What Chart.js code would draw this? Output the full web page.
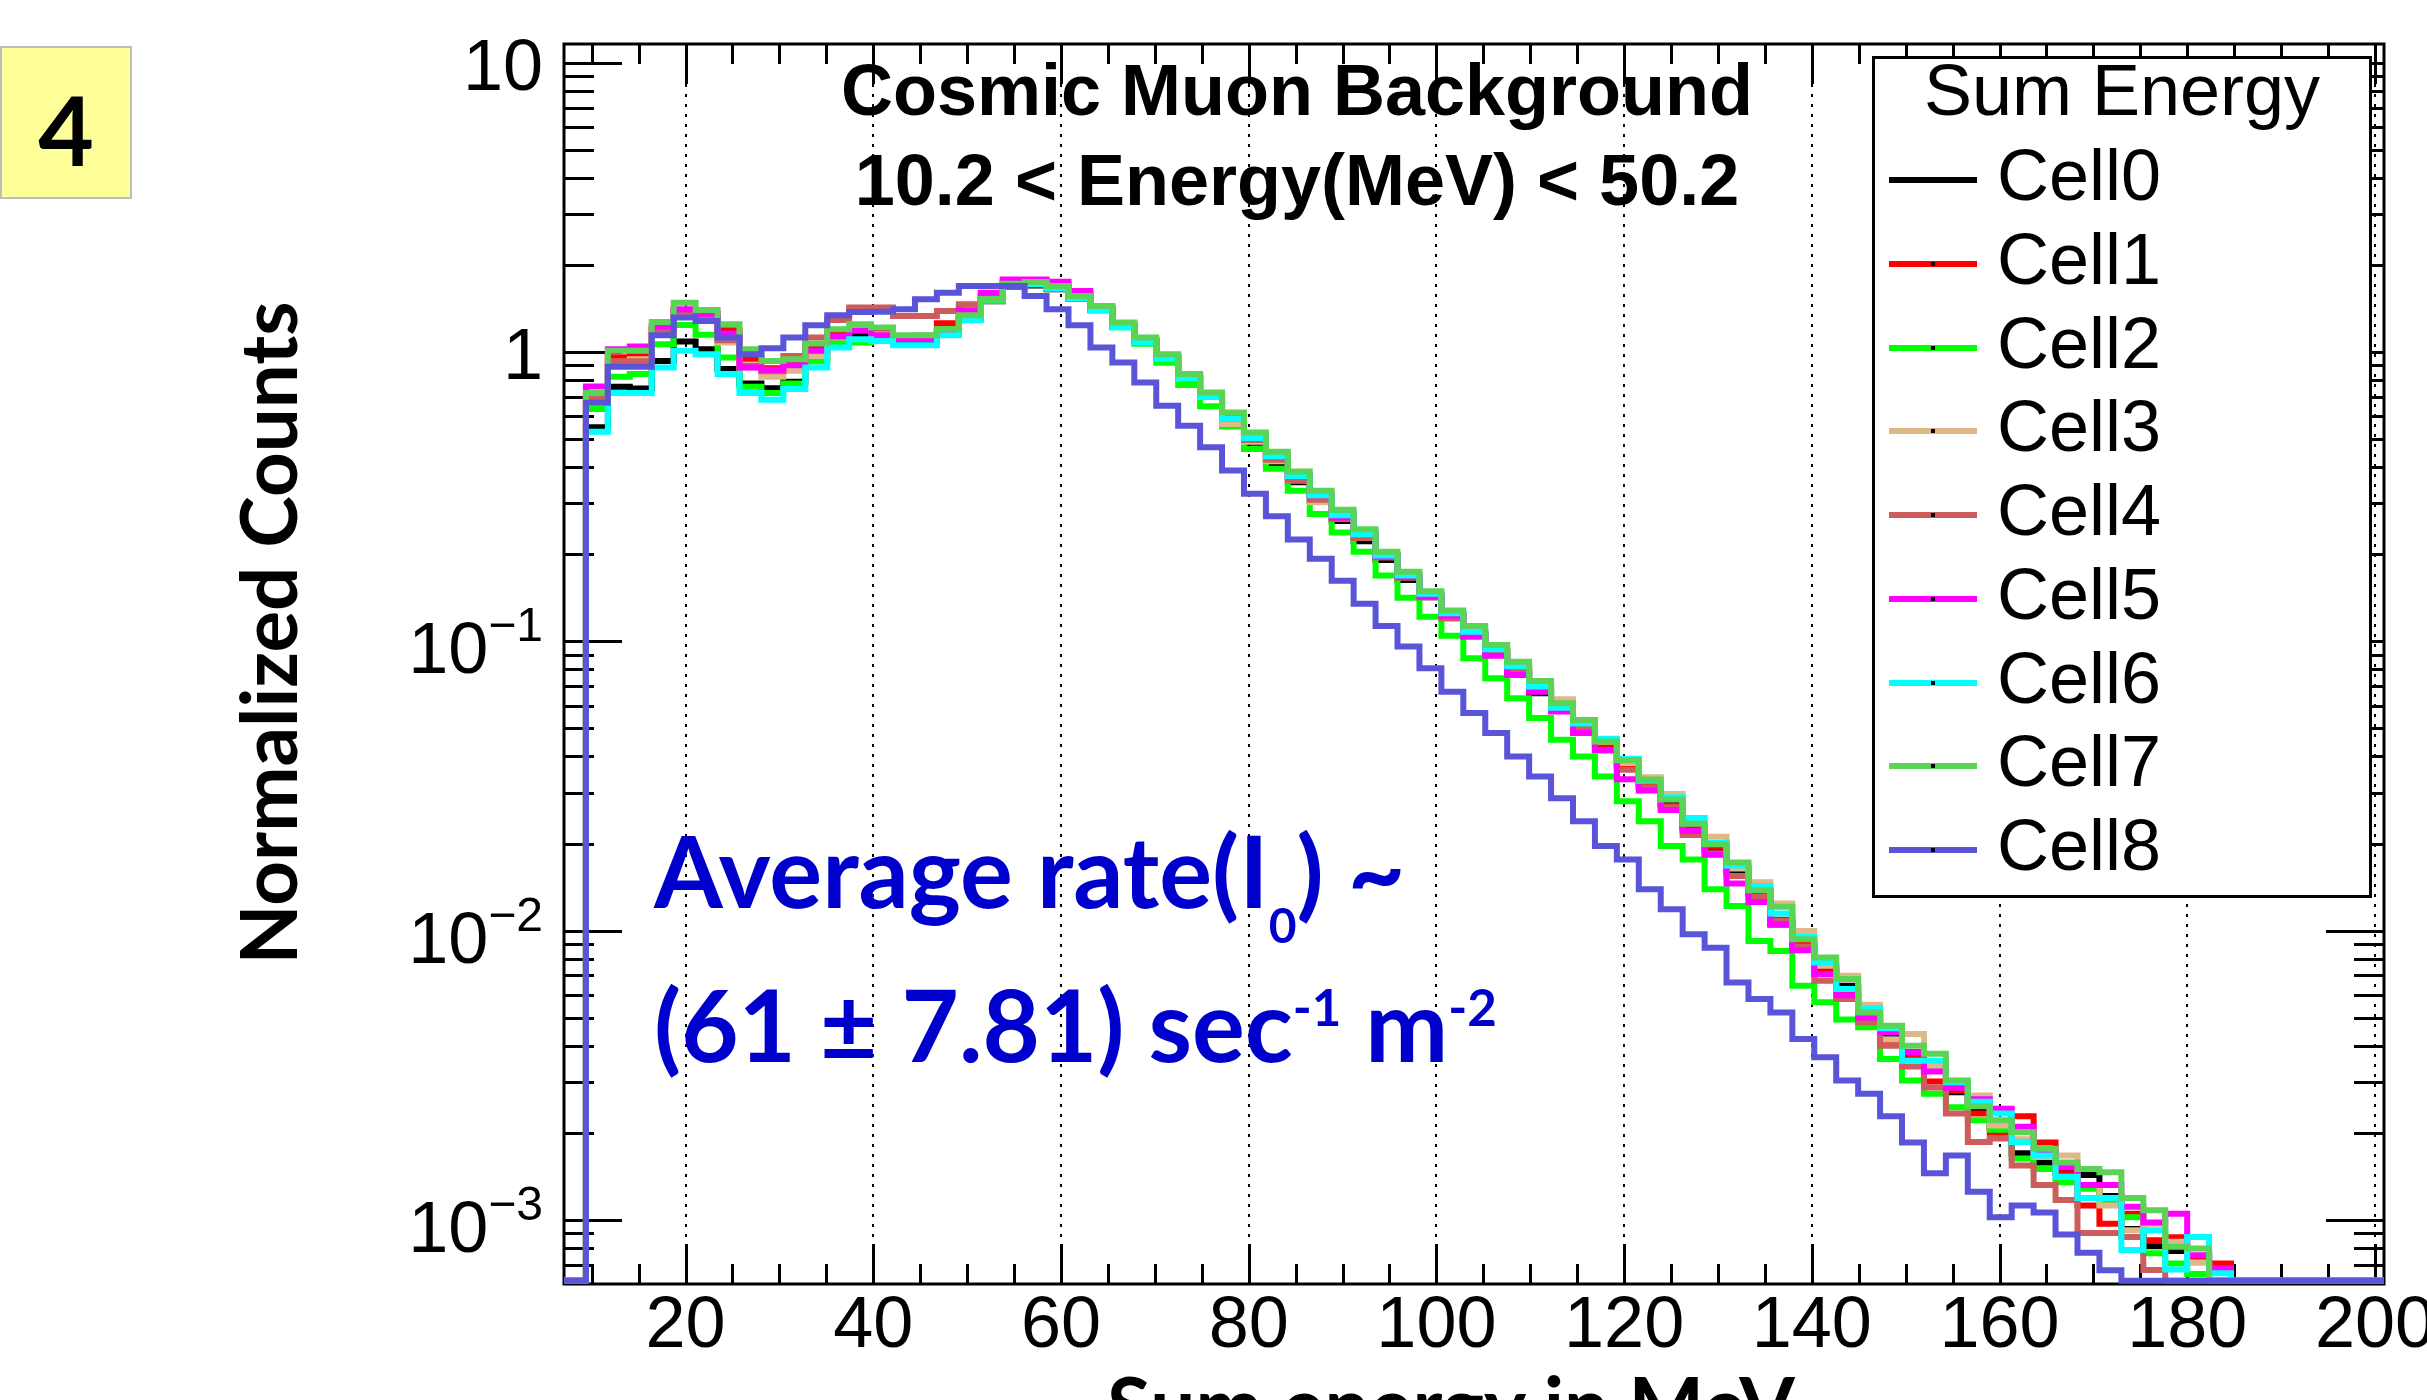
<!DOCTYPE html>
<html lang="en">
<head>
<meta charset="utf-8">
<title>Cosmic Muon Background</title>
<script src="https://cdn.jsdelivr.net/npm/chart.js"></script>
<style>
    html, body { margin: 0; padding: 0; background: #ffffff; overflow: hidden; }
    #pagina { position: relative; width: 2427px; height: 1400px; overflow: hidden; background: #ffffff; }
    #grafico { position: absolute; left: 0; top: 0; }
    .texto { position: absolute; white-space: nowrap; line-height: 1; }
    .helv { font-family: "Liberation Sans", Arial, sans-serif; color: #000; }
    .cal { font-family: Lato, "Noto Sans", sans-serif; font-weight: 700; }
    #caja4 { position: absolute; left: 0; top: 46px; width: 128px; height: 149px; background: #ffff99; border: 2px solid #bdbdbd; }
    #num4 { left: 0; top: 81px; width: 132px; text-align: center; font-size: 96px; color: #000; }
    #ytitulo { left: -133px; top: 594px; width: 800px; text-align: center; font-size: 78px; color: #000; transform: rotate(-90deg); }
    #xtitulo { left: 1051px; top: 1364px; width: 800px; text-align: center; font-size: 80px; color: #000; }
    .titulo { left: 697px; width: 1200px; text-align: center; font-size: 72px; font-weight: bold; }
    .tasa { left: 654px; font-size: 99px; color: #0000cc; }
    .sup { position: relative; top: -36px; font-size: 51px; }
    .sub { position: relative; top: 35px; font-size: 48px; }
    #leyenda { position: absolute; left: 1872px; top: 56px; width: 494px; height: 836px; background: #fff; border: 3px solid #000; }
    .linea { position: absolute; height: 6px; width: 88px; }
    .punto { position: absolute; left: 42px; top: 1px; width: 4px; height: 4px; background: #000; }
</style>
</head>
<body>
<div id="pagina">
    <canvas id="grafico" width="2427" height="1400"></canvas>

    <div id="caja4"></div>
    <div id="num4" class="texto cal">4</div>

    <div id="ytitulo" class="texto cal">Normalized Counts</div>
    <div id="xtitulo" class="texto cal">Sum energy in MeV</div>

    <div class="texto helv titulo" style="top: 54px;">Cosmic Muon Background</div>
    <div class="texto helv titulo" style="top: 144px;">10.2 &lt; Energy(MeV) &lt; 50.2</div>

    <div class="texto cal tasa" style="top: 820px;">Average rate(I<span class="sub">0</span>) ~</div>
    <div class="texto cal tasa" style="top: 974px;">(61 ± 7.81) sec<span class="sup">-1</span> m<span class="sup">-2</span></div>

    <div id="leyenda"></div>
</div>

<script>
        // bins of the histograms: lower edge of the first bin and bin width (MeV)
        const binLow = 7.05;
        const binWidth = 2.337;
        const xMin = 7.05;
        const xMax = 200.96;
        const yMin = 6.16e-4;
        const yMax = 11.63;

        const xTickValues = [20, 40, 60, 80, 100, 120, 140, 160, 180, 200];
        const yTickPowers = [1, 0, -1, -2, -3];

        const cellNames = ['Cell0', 'Cell1', 'Cell2', 'Cell3', 'Cell4', 'Cell5', 'Cell6', 'Cell7', 'Cell8'];
        const cellColors = ['#000000', '#ff0000', '#00ff00', '#deb887', '#cd5c5c', '#ff00ff', '#00ffff', '#59d454', '#5954d8'];

        const cell0 = [0, 0.55, 0.76, 0.749, 0.933, 1.088, 1.024, 0.874, 0.78, 0.75,
            0.79, 0.946, 1.088, 1.14, 1.12, 1.09, 1.09, 1.16, 1.31, 1.50,
            1.68, 1.70, 1.65, 1.53, 1.40, 1.23, 1.09, 0.95, 0.81, 0.70,
            0.59, 0.486, 0.414, 0.355, 0.305, 0.261, 0.222, 0.191, 0.163, 0.142,
            0.122, 0.105, 0.091, 0.078, 0.0662, 0.058, 0.0511, 0.043, 0.0375, 0.032,
            0.0275, 0.0226, 0.0192, 0.0160, 0.0134, 0.0105, 0.0089, 0.0074, 0.00645, 0.0052,
            0.0044, 0.0038, 0.00339, 0.00276, 0.0024, 0.0021, 0.00170, 0.00158, 0.0015, 0.00143,
            0.00121, 0.00093, 0.00081, 0.00078, 0.00075, 0, 0, 0, 0, 0,
            0, 0, 0];
        const cell1 = [0, 0.72, 0.96, 0.98, 1.21, 1.40, 1.36, 1.19, 0.95, 0.88,
            0.92, 1.03, 1.15, 1.20, 1.17, 1.13, 1.14, 1.26, 1.37, 1.56,
            1.74, 1.76, 1.70, 1.57, 1.42, 1.25, 1.10, 0.97, 0.83, 0.71,
            0.60, 0.51, 0.44, 0.375, 0.32, 0.275, 0.236, 0.199, 0.170, 0.145,
            0.124, 0.107, 0.092, 0.080, 0.069, 0.059, 0.051, 0.044, 0.037, 0.032,
            0.027, 0.0228, 0.0195, 0.0165, 0.0137, 0.0109, 0.0090, 0.0073, 0.0062, 0.0051,
            0.00415, 0.0037, 0.00301, 0.0028, 0.00233, 0.0020, 0.00228, 0.00185, 0.00145, 0.00112,
            0.00097, 0.00105, 0.00085, 0.00087, 0.000745, 0.000706, 0, 0, 0, 0,
            0, 0, 0];
        const cell2 = [0, 0.636, 0.822, 0.840, 1.066, 1.242, 1.148, 0.958, 0.759, 0.722,
            0.780, 0.929, 1.080, 1.080, 1.115, 1.132, 1.132, 1.200, 1.334, 1.503,
            1.684, 1.716, 1.659, 1.532, 1.40, 1.22, 1.07, 0.92, 0.77, 0.65,
            0.553, 0.463, 0.395, 0.332, 0.276, 0.238, 0.204, 0.169, 0.1415, 0.1216,
            0.1046, 0.0874, 0.0746, 0.0636, 0.0543, 0.0457, 0.0400, 0.0341, 0.0280, 0.0239,
            0.0196, 0.0176, 0.0139, 0.01216, 0.00921, 0.00851, 0.00645, 0.00565, 0.00493, 0.00463,
            0.00360, 0.00303, 0.00273, 0.00245, 0.00221, 0.00205, 0.00163, 0.00150, 0.00135, 0.00128,
            0.00115, 0.00102, 0.000766, 0.000707, 0.00065, 0, 0, 0, 0, 0,
            0, 0, 0];
        const cell3 = [0, 0.694, 0.926, 0.946, 1.185, 1.370, 1.334, 1.080, 0.885, 0.822,
            0.862, 0.971, 1.124, 1.200, 1.154, 1.132, 1.132, 1.185, 1.334, 1.523,
            1.716, 1.738, 1.684, 1.555, 1.42, 1.25, 1.11, 0.975, 0.83, 0.72,
            0.565, 0.49, 0.42, 0.360, 0.303, 0.27, 0.235, 0.198, 0.168, 0.145,
            0.125, 0.108, 0.094, 0.082, 0.071, 0.0631, 0.052, 0.045, 0.038, 0.0339,
            0.0297, 0.0235, 0.0211, 0.0164, 0.0147, 0.0124, 0.00997, 0.00756, 0.00698, 0.00554,
            0.0042, 0.00439, 0.0034, 0.0029, 0.00269, 0.00212, 0.00190, 0.00165, 0.00167, 0.00132,
            0.00112, 0.00092, 0.00097, 0.00084, 0.00071, 0, 0, 0, 0, 0,
            0, 0, 0];
        const cell4 = [0, 0.70, 0.93, 0.93, 1.194, 1.38, 1.324, 1.10, 0.90, 0.86,
            0.971, 1.124, 1.293, 1.426, 1.426, 1.334, 1.334, 1.388, 1.464, 1.56,
            1.70, 1.72, 1.66, 1.53, 1.40, 1.23, 1.09, 0.955, 0.815, 0.70,
            0.59, 0.497, 0.425, 0.36, 0.309, 0.265, 0.228, 0.195, 0.166, 0.142,
            0.120, 0.105, 0.0926, 0.0796, 0.068, 0.058, 0.0497, 0.042, 0.0360, 0.0313,
            0.0267, 0.0214, 0.0185, 0.01545, 0.01306, 0.0108, 0.00882, 0.00671, 0.0058, 0.00482,
            0.00400, 0.00339, 0.00287, 0.00233, 0.00186, 0.00191, 0.00154, 0.00132, 0.00117, 0.00090,
            0.00090, 0.000873, 0.000671, 0, 0, 0, 0, 0, 0, 0,
            0, 0, 0];
        const cell5 = [0, 0.761, 1.024, 1.046, 1.226, 1.407, 1.359, 1.160, 0.885, 0.869,
            0.902, 1.011, 1.132, 1.185, 1.145, 1.109, 1.109, 1.169, 1.396, 1.606,
            1.785, 1.785, 1.753, 1.627, 1.41, 1.24, 1.10, 0.96, 0.82, 0.71,
            0.60, 0.51, 0.44, 0.375, 0.32, 0.268, 0.235, 0.197, 0.167, 0.1426,
            0.1226, 0.1038, 0.0892, 0.0765, 0.0670, 0.0572, 0.0482, 0.0420, 0.0334, 0.0305,
            0.0261, 0.0221, 0.0183, 0.01456, 0.01256, 0.01051, 0.00855, 0.00707, 0.00598, 0.00501,
            0.00445, 0.00380, 0.00326, 0.00286, 0.00261, 0.00242, 0.00210, 0.00170, 0.00152, 0.00132,
            0.00132, 0.00111, 0.00098, 0.00105, 0.000755, 0.000679, 0, 0, 0, 0,
            0, 0, 0];
        const cell6 = [0, 0.531, 0.722, 0.722, 0.885, 1.011, 0.984, 0.840, 0.722, 0.685,
            0.746, 0.885, 1.038, 1.109, 1.094, 1.057, 1.057, 1.145, 1.289, 1.523,
            1.693, 1.716, 1.659, 1.532, 1.39, 1.22, 1.08, 0.95, 0.81, 0.70,
            0.590, 0.505, 0.437, 0.373, 0.320, 0.273, 0.2345, 0.198, 0.169, 0.146,
            0.125, 0.108, 0.094, 0.082, 0.0698, 0.059, 0.052, 0.0461, 0.0393, 0.033,
            0.0289, 0.0245, 0.0201, 0.0168, 0.01426, 0.01145, 0.00951, 0.00776, 0.00628, 0.00540,
            0.0046, 0.00355, 0.00355, 0.00299, 0.00256, 0.00233, 0.00186, 0.00167, 0.00141, 0.00119,
            0.00119, 0.000786, 0.000921, 0.000674, 0.000873, 0.000654, 0, 0, 0, 0,
            0, 0, 0];
        const cell7 = [0, 0.722, 1.011, 1.011, 1.272, 1.483, 1.400, 1.249, 1.024, 0.933,
            0.946, 1.071, 1.200, 1.249, 1.216, 1.145, 1.145, 1.200, 1.341, 1.523,
            1.725, 1.748, 1.693, 1.564, 1.444, 1.266, 1.124, 0.984, 0.840, 0.726,
            0.619, 0.528, 0.453, 0.387, 0.332, 0.285, 0.244, 0.204, 0.174, 0.149,
            0.128, 0.113, 0.0971, 0.0851, 0.0730, 0.0611, 0.0535, 0.0451, 0.0388, 0.0333,
            0.0284, 0.0234, 0.0199, 0.0172, 0.0138, 0.0121, 0.00933, 0.00807, 0.00680, 0.00521,
            0.00469, 0.00400, 0.00375, 0.00303, 0.00247, 0.00221, 0.00201, 0.00176, 0.00158, 0.00150,
            0.00146, 0.00119, 0.00108, 0.000807, 0.000796, 0, 0, 0, 0, 0,
            0, 0, 0];
        const cell8 = [0, 0.668, 0.890, 0.890, 1.145, 1.317, 1.282, 1.124, 0.984, 1.032,
            1.124, 1.239, 1.341, 1.377, 1.381, 1.407, 1.523, 1.606, 1.693, 1.693,
            1.693, 1.564, 1.407, 1.239, 1.038, 0.921, 0.786, 0.653, 0.557, 0.469,
            0.390, 0.324, 0.271, 0.225, 0.193, 0.162, 0.135, 0.113, 0.0960, 0.0807,
            0.0670, 0.0565, 0.0482, 0.0400, 0.0341, 0.0287, 0.0239, 0.0196, 0.0176, 0.0139,
            0.01186, 0.00971, 0.00873, 0.00662, 0.00580, 0.00521, 0.00422, 0.00365, 0.00303, 0.00273,
            0.00228, 0.00185, 0.00145, 0.00167, 0.00125, 0.00102, 0.00112, 0.00106, 0.00089, 0.00077,
            0.00067, 0, 0, 0, 0, 0, 0, 0, 0, 0,
            0, 0, 0];

        const cellValues = [cell0, cell1, cell2, cell3, cell4, cell5, cell6, cell7, cell8];

        // histogram as step line: one point per lower bin edge, plus the last upper edge.
        // empty bins sit on the bottom of the log axis, as ROOT draws them
        function puntosHistograma(valores) {
            const puntos = valores.map((v, k) => ({ x: binLow + k * binWidth, y: v > 0 ? v : yMin }));
            puntos.push({ x: binLow + valores.length * binWidth, y: puntos[puntos.length - 1].y });
            return puntos;
        }

        const datosGrafico = {
            datasets: cellValues.map((valores, i) => ({
                label: cellNames[i],
                data: puntosHistograma(valores),
                borderColor: cellColors[i],
                backgroundColor: cellColors[i],
                borderWidth: 6,
                stepped: 'before',
                pointRadius: 0,
                fill: false,
                order: cellValues.length - 1 - i
            }))
        };

        const fuenteRoot = '"Liberation Sans", Arial, sans-serif';

        const marcoRoot = {
            id: 'marcoRoot',
            beforeDatasetsDraw(chart) {
                const { ctx, chartArea: a } = chart;
                const x = chart.scales.x;
                const y = chart.scales.y;
                ctx.save();
                ctx.strokeStyle = '#000';
                ctx.lineWidth = 3;
                ctx.beginPath();
                for (let v = 10; v <= 200; v += 5) {
                    const px = Math.round(x.getPixelForValue(v)) + 0.5;
                    const largo = v % 20 === 0 ? 40 : 20;
                    ctx.moveTo(px, a.bottom); ctx.lineTo(px, a.bottom - largo);
                    ctx.moveTo(px, a.top); ctx.lineTo(px, a.top + largo);
                }
                for (let p = -4; p <= 1; p++) {
                    for (let m = 1; m <= 9; m++) {
                        const v = m * Math.pow(10, p);
                        if (v < yMin || v > yMax) continue;
                        const py = Math.round(y.getPixelForValue(v)) + 0.5;
                        const largo = m === 1 ? 58 : 30;
                        ctx.moveTo(a.left, py); ctx.lineTo(a.left + largo, py);
                        ctx.moveTo(a.right, py); ctx.lineTo(a.right - largo, py);
                    }
                }
                ctx.stroke();
                ctx.strokeRect(a.left, a.top, a.right - a.left, a.bottom - a.top);
                ctx.restore();
            },
            afterDraw(chart) {
                const { ctx, chartArea: a } = chart;
                const y = chart.scales.y;
                const derecha = a.left - 21;
                ctx.save();
                ctx.fillStyle = '#000';
                ctx.textAlign = 'right';
                ctx.textBaseline = 'alphabetic';
                yTickPowers.forEach(p => {
                    const py = y.getPixelForValue(Math.pow(10, p));
                    if (p >= 0) {
                        ctx.font = '72px ' + fuenteRoot;
                        ctx.fillText(p === 0 ? '1' : '10', derecha, py + 27);
                    } else {
                        const exp = '\u2212' + (-p);
                        ctx.font = '48px ' + fuenteRoot;
                        const w = ctx.measureText(exp).width;
                        ctx.fillText(exp, derecha, py);
                        ctx.font = '72px ' + fuenteRoot;
                        ctx.fillText('10', derecha - w, py + 32);
                    }
                });
                ctx.restore();
            }
        };

        const ctx = document.getElementById('grafico').getContext('2d');
        const grafico = new Chart(ctx, {
            type: 'line',
            data: datosGrafico,
            options: {
                responsive: false,
                animation: false,
                events: [],
                layout: { padding: { left: 564, right: 43, top: 44, bottom: 0 } },
                plugins: {
                    legend: { display: false },
                    tooltip: { enabled: false },
                    title: { display: false }
                },
                elements: { line: { tension: 0, borderJoinStyle: 'miter', borderCapStyle: 'butt' } },
                scales: {
                    x: {
                        type: 'linear',
                        min: xMin,
                        max: xMax,
                        afterBuildTicks: s => { s.ticks = xTickValues.map(v => ({ value: v })); },
                        afterFit: s => { s.height = 116; s.paddingLeft = 0; s.paddingRight = 0; },
                        grid: { display: true, drawTicks: false, color: '#000', lineWidth: 2 },
                        border: { display: false, dash: [3, 7] },
                        ticks: {
                            autoSkip: false,
                            maxRotation: 0,
                            minRotation: 0,
                            padding: 0,
                            color: '#000',
                            font: { family: fuenteRoot, size: 72 },
                            callback: v => String(v)
                        }
                    },
                    y: {
                        type: 'logarithmic',
                        min: yMin,
                        max: yMax,
                        afterFit: s => { s.width = 0; },
                        grid: { display: false },
                        border: { display: false },
                        ticks: { display: false }
                    }
                }
            },
            plugins: [marcoRoot]
        });

        // legend box (ROOT TLegend style)
        const leyenda = document.getElementById('leyenda');
        const cabecera = document.createElement('div');
        cabecera.className = 'texto helv';
        cabecera.style.cssText = 'left:0;width:494px;text-align:center;top:-5px;font-size:72px;';
        cabecera.textContent = 'Sum Energy';
        leyenda.appendChild(cabecera);
        cellNames.forEach((nombre, i) => {
            const yLinea = 180 + 83.75 * i - 59;
            const linea = document.createElement('div');
            linea.className = 'linea';
            linea.style.left = '14px';
            linea.style.top = (yLinea - 3) + 'px';
            linea.style.background = cellColors[i];
            if (i > 0) {
                const punto = document.createElement('div');
                punto.className = 'punto';
                linea.appendChild(punto);
            }
            leyenda.appendChild(linea);
            const etiqueta = document.createElement('div');
            etiqueta.className = 'texto helv';
            etiqueta.style.cssText = 'left:122px;font-size:72px;top:' + (200 + 83.75 * i - 59 - 61) + 'px;';
            etiqueta.textContent = nombre;
            leyenda.appendChild(etiqueta);
        });
</script>
</body>
</html>
